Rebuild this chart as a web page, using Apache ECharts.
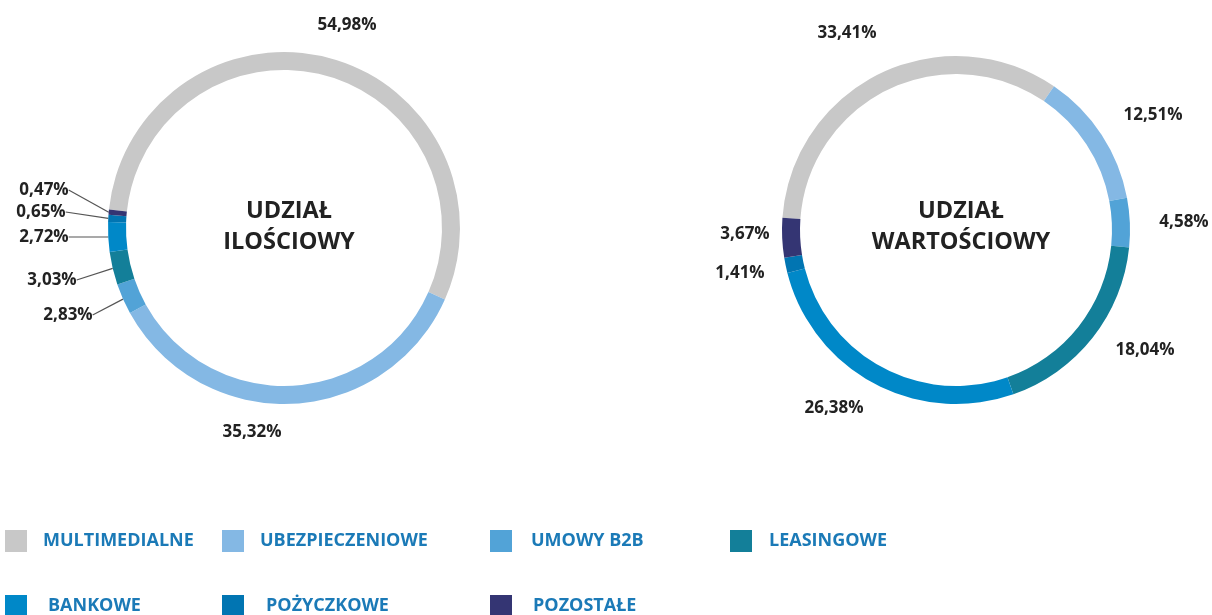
<!DOCTYPE html>
<html>
<head>
<meta charset="utf-8">
<script src="https://cdn.jsdelivr.net/npm/echarts@6/dist/echarts.min.js"></script>
<style>
  html, body { margin: 0; padding: 0; background: #fff; }
  #chart { width: 1212px; height: 615px; }
</style>
</head>
<body>
<div id="chart"></div>
<script>
// kategorie i udziały (%)
const categories = ['MULTIMEDIALNE', 'UBEZPIECZENIOWE', 'UMOWY B2B', 'LEASINGOWE', 'BANKOWE', 'POŻYCZKOWE', 'POZOSTAŁE'];
const udzialIlosciowy = [54.98, 35.32, 2.83, 3.03, 2.72, 0.65, 0.47];
const udzialWartosciowy = [33.41, 12.51, 4.58, 18.04, 26.38, 1.41, 3.67];
const colors = ['#c8c8c8', '#84b8e4', '#52a3d7', '#137f99', '#0088c8', '#0175b2', '#343573'];

// pozycje etykiet (środek tekstu, px)
const labelSpotsLeft = [[347, 25], [252, 432], [68, 315], [52, 280], [44, 237], [41, 212], [44, 190]];
const labelSpotsRight = [[847, 33], [1153, 115], [1184, 222], [1145, 350], [834, 408], [740, 273], [745, 234]];

// legenda: [lewo, góra, odstęp tekstu]
const legendSpots = [[5, 530, 16], [222, 530, 16], [490, 530, 19], [730, 530, 17], [5, 595, 21], [222, 595, 22], [490, 595, 21]];

const font = '"Open Sans", sans-serif';
const fmt = (v) => v.toFixed(2).replace('.', ',') + '%';

const chart = echarts.init(document.getElementById('chart'), null, { renderer: 'canvas' });

const buildSeries = (values, center, radius, startAngle, spots, withLines) => ({
  type: 'pie',
  center,
  radius,
  startAngle,
  clockwise: true,
  avoidLabelOverlap: false,
  silent: true,
  data: values.map((v, i) => ({
    name: categories[i],
    value: v,
    itemStyle: { color: colors[i] },
    labelLine: { show: withLines && i >= 2 },
  })),
  label: {
    show: true,
    position: 'outside',
    formatter: (p) => fmt(p.value),
    fontFamily: font,
    fontWeight: 'bold',
    fontSize: 17,
    color: '#222',
  },
  labelLine: {
    length: 6,
    length2: 0,
    lineStyle: { color: '#555', width: 1.2 },
  },
  labelLayout: (params) => {
    const p = spots[params.dataIndex];
    return { x: p[0], y: p[1], align: 'center', verticalAlign: 'middle' };
  },
});

const centerTitle = (text, left) => ({
  text,
  left, top: 196, textAlign: 'center', padding: 0,
  textStyle: { fontFamily: font, fontWeight: 'bold', fontSize: 23.5, lineHeight: 31, color: '#222' },
});

chart.setOption({
  animation: false,
  color: colors,
  title: [
    centerTitle('UDZIAŁ\nILOŚCIOWY', 289),
    centerTitle('UDZIAŁ\nWARTOŚCIOWY', 961),
  ],
  legend: categories.map((name, i) => ({
    data: [name],
    left: legendSpots[i][0],
    top: legendSpots[i][1],
    padding: 0,
    icon: 'rect',
    itemWidth: 22,
    itemHeight: 22,
    selectedMode: false,
    textStyle: {
      fontFamily: font,
      fontWeight: 'bold',
      fontSize: 18,
      color: '#1b7ab7',
      padding: [0, 0, 0, legendSpots[i][2] - 5],
    },
  })),
  series: [
    buildSeries(udzialIlosciowy, [284, 228], [158, 176], 174, labelSpotsLeft, true),
    buildSeries(udzialWartosciowy, [956, 230], [156, 174], 176, labelSpotsRight, false),
  ],
});
</script>
</body>
</html>
